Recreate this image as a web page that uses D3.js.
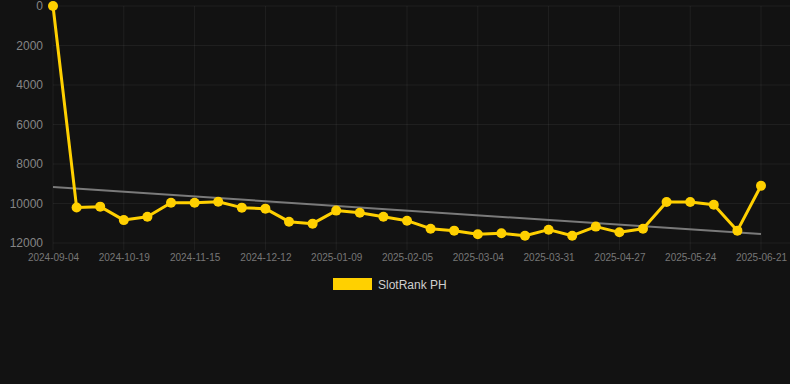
<!DOCTYPE html>
<html><head><meta charset="utf-8">
<script src="https://cdn.jsdelivr.net/npm/d3@7/dist/d3.min.js"></script>
<style>html,body{margin:0;padding:0;background:#121212;}svg{display:block;}</style>
</head><body>
<svg id="c" width="790" height="384"></svg>
<script>
const dates = ["2024-09-04","2024-10-01","2024-10-10","2024-10-19","2024-10-28","2024-11-06","2024-11-15","2024-11-24","2024-12-03","2024-12-12","2024-12-21","2024-12-31","2025-01-09","2025-01-18","2025-01-27","2025-02-05","2025-02-14","2025-02-23","2025-03-04","2025-03-13","2025-03-22","2025-03-31","2025-04-09","2025-04-18","2025-04-27","2025-05-06","2025-05-15","2025-05-24","2025-06-02","2025-06-11","2025-06-21"];
const ranks = [0,10200,10160,10840,10670,9960,9960,9910,10210,10260,10920,11020,10360,10470,10670,10870,11275,11375,11560,11510,11630,11325,11630,11170,11460,11275,9920,9920,10060,11375,9100];
const yTicks = [0,2000,4000,6000,8000,10000,12000];
const seriesName = "SlotRank PH";

const svg = d3.select("#c");
const L = 53, R = 761, T = 6, B = 243, gridRight = 790;
const x = d3.scalePoint().domain(dates).range([L, R]);
const y = d3.scaleLinear().domain([0, 12000]).range([T, B]);
const gridColor = "rgba(255,255,255,0.06)";

// horizontal grid
svg.append("g").selectAll("line").data(yTicks).join("line")
  .attr("x1", L).attr("x2", gridRight)
  .attr("y1", d => y(d)).attr("y2", d => y(d))
  .attr("stroke", gridColor).attr("stroke-width", 1);
// vertical grid every 3rd category
const labelDates = dates.filter((d, i) => i % 3 === 0);
svg.append("g").selectAll("line").data(labelDates).join("line")
  .attr("x1", d => x(d)).attr("x2", d => x(d))
  .attr("y1", T).attr("y2", B + 7)
  .attr("stroke", gridColor).attr("stroke-width", 1);

// y axis labels
const yAxis = d3.axisLeft(y).tickValues(yTicks).tickSize(0).tickPadding(0).tickFormat(d => String(d));
const gy = svg.append("g").attr("transform", `translate(${L - 10},0)`).call(yAxis);
gy.select(".domain").remove();
gy.selectAll("text").attr("fill", "#858585").attr("font-family", "Arial, 'Liberation Sans', sans-serif").attr("font-size", 12);

// x axis labels
const xAxis = d3.axisBottom(x).tickValues(labelDates).tickSize(0).tickPadding(0);
const gx = svg.append("g").attr("transform", `translate(0,${B + 11})`).call(xAxis);
gx.select(".domain").remove();
gx.selectAll("text").attr("fill", "#777").attr("font-family", "Arial, 'Liberation Sans', sans-serif").attr("font-size", 10);

// trend line (least squares)
const n = ranks.length;
const xs = d3.range(n);
const mx = d3.mean(xs), my = d3.mean(ranks);
const slope = d3.sum(xs, i => (i - mx) * (ranks[i] - my)) / d3.sum(xs, i => (i - mx) ** 2);
const icpt = my - slope * mx;
svg.append("line")
  .attr("x1", x(dates[0])).attr("y1", y(icpt))
  .attr("x2", x(dates[n - 1])).attr("y2", y(icpt + slope * (n - 1)))
  .attr("stroke", "#7a7a7a").attr("stroke-width", 2);

// series
const gold = "#FFD000";
svg.append("path").datum(ranks)
  .attr("d", d3.line().x((d, i) => x(dates[i])).y(d => y(d)))
  .attr("fill", "none").attr("stroke", gold).attr("stroke-width", 3).attr("stroke-linejoin", "round");
svg.append("g").selectAll("circle").data(ranks).join("circle")
  .attr("cx", (d, i) => x(dates[i])).attr("cy", d => y(d)).attr("r", 5)
  .attr("fill", gold);

// legend
const lg = svg.append("g");
lg.append("rect").attr("x", 333).attr("y", 278).attr("width", 39).attr("height", 12).attr("fill", gold);
lg.append("text").attr("x", 378).attr("y", 288.5).text(seriesName)
  .attr("fill", "#cfcfcf").attr("font-family", "Arial, 'Liberation Sans', sans-serif").attr("font-size", 12);
</script>
</body></html>
